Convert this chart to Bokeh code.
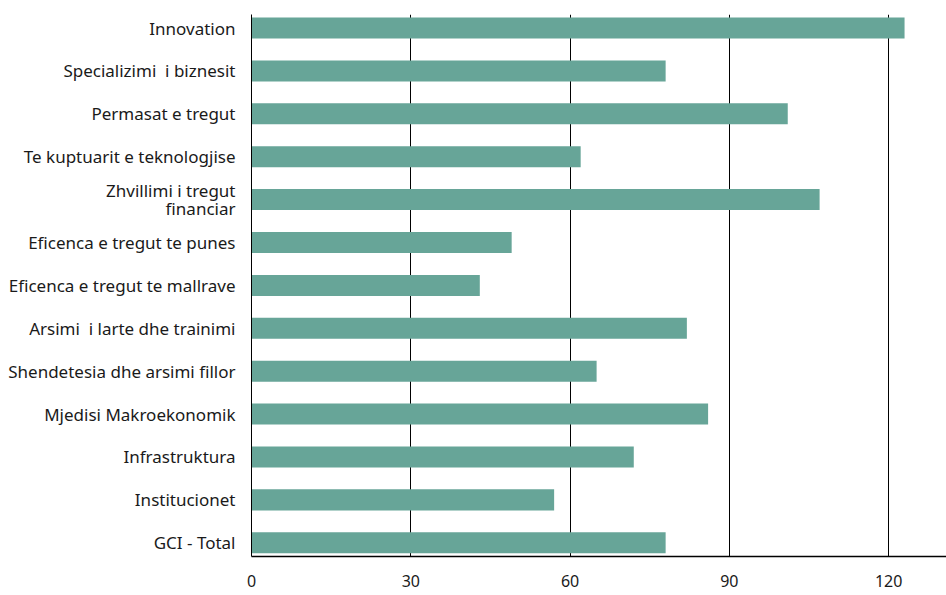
from bokeh.plotting import figure
from bokeh.models import Range1d, FixedTicker
from bokeh.embed import file_html
from bokeh.resources import INLINE

# Data (bottom to top)
categories = [
    "GCI - Total",
    "Institucionet",
    "Infrastruktura",
    "Mjedisi Makroekonomik",
    "Shendetesia dhe arsimi fillor",
    "Arsimi \u00a0i larte dhe trainimi",
    "Eficenca e tregut te mallrave",
    "Eficenca e tregut te punes",
    "Zhvillimi i tregut\nfinanciar",
    "Te kuptuarit e teknologjise",
    "Permasat e tregut",
    "Specializimi \u00a0i biznesit",
    "Innovation",
]
values = [78, 57, 72, 86, 65, 82, 43, 49, 107, 62, 101, 78, 123]
x_ticks = [0, 30, 60, 90, 120]

positions = list(range(len(categories)))

p = figure(
    width=946, height=595,
    output_backend="svg", toolbar_location=None,
    x_range=Range1d(0, 130.9),
    y_range=Range1d(-0.32, len(categories) - 1 + 0.315),
    min_border_left=251, min_border_right=0,
    min_border_top=14, min_border_bottom=39,
)
p.outline_line_color = None
p.background_fill_color = "white"

p.hbar(y=positions, right=values, left=0, height=0.49,
       fill_color="#67A598", line_color=None)

# x axis
p.xaxis.ticker = FixedTicker(ticks=x_ticks)
p.xaxis.axis_line_color = "black"
p.xaxis.axis_line_width = 1.5
p.xaxis.major_tick_out = 0
p.xaxis.major_tick_in = 0
p.xaxis.minor_tick_line_color = None
p.xaxis.major_label_standoff = 18
p.xaxis.major_label_text_font = "Noto Sans"
p.xaxis.major_label_text_font_size = "16px"
p.xaxis.major_label_text_color = "#1a1a1a"

# y axis
p.yaxis.ticker = FixedTicker(ticks=positions)
p.yaxis.major_label_overrides = {i: c for i, c in enumerate(categories)}
p.yaxis.axis_line_color = "black"
p.yaxis.axis_line_width = 1
p.yaxis.major_tick_out = 0
p.yaxis.major_tick_in = 0
p.yaxis.minor_tick_line_color = None
p.yaxis.major_label_standoff = 16
p.yaxis.major_label_text_font = "Noto Sans"
p.yaxis.major_label_text_font_size = "17px"
p.yaxis.major_label_text_line_height = 0.8
p.yaxis.major_label_text_color = "#1a1a1a"

# grid
p.xgrid.ticker = FixedTicker(ticks=x_ticks)
p.xgrid.grid_line_color = "black"
p.xgrid.grid_line_width = 1
p.ygrid.grid_line_color = None

open("out.html", "w").write(file_html(p, INLINE))
